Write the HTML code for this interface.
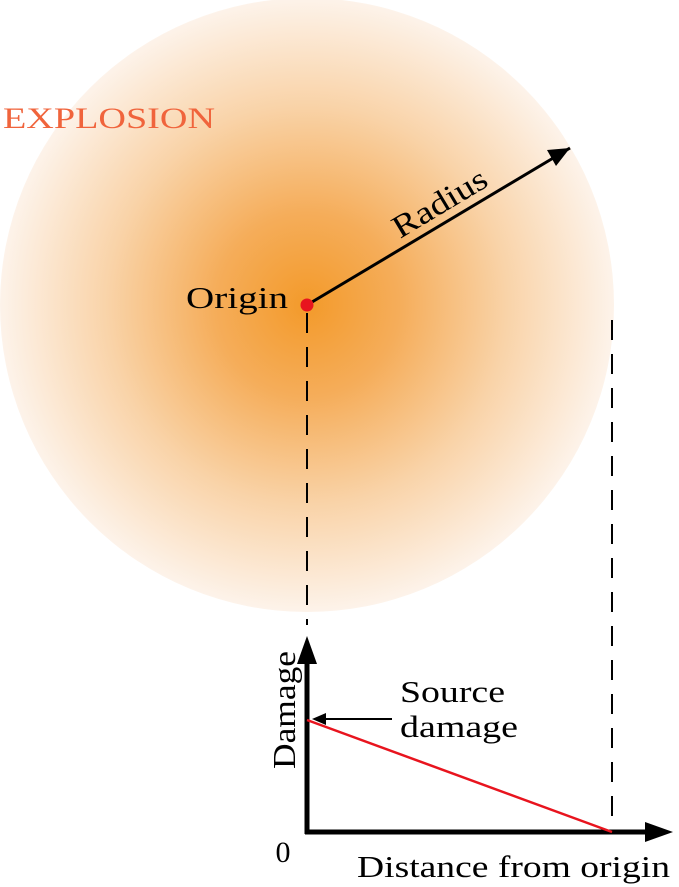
<!DOCTYPE html>
<html><head><meta charset="utf-8"><style>
html,body{margin:0;padding:0;background:#fff;}
svg{display:block;font-family:"Liberation Serif",serif;}
</style></head><body>
<svg width="679" height="887" viewBox="0 0 679 887">
<defs>
<radialGradient id="g" cx="307" cy="305" r="307" gradientUnits="userSpaceOnUse">
<stop offset="0" stop-color="#f39a2a"/>
<stop offset="0.3" stop-color="#f5ad5a"/>
<stop offset="0.65" stop-color="#f9d3a8"/>
<stop offset="1" stop-color="#fdf3ea"/>
</radialGradient>
</defs>
<circle cx="307" cy="305" r="307" fill="url(#g)"/>
<text x="3" y="128" font-size="30" fill="#f0643c" textLength="212" lengthAdjust="spacingAndGlyphs">EXPLOSION</text>
<line x1="307" y1="305" x2="570" y2="148" stroke="#000" stroke-width="3"/>
<path d="M570,148 L547,150 L556,166 Z" fill="#000"/>
<text x="445" y="212" font-size="32" text-anchor="middle" textLength="105" lengthAdjust="spacingAndGlyphs" transform="rotate(-31 445 212)">Radius</text>
<text x="186" y="308" font-size="31" textLength="102" lengthAdjust="spacingAndGlyphs">Origin</text>
<line x1="307" y1="313" x2="307" y2="625" stroke="#000" stroke-width="2" stroke-dasharray="20,14"/>
<line x1="612" y1="320" x2="612" y2="832" stroke="#000" stroke-width="2" stroke-dasharray="20,14"/>
<circle cx="307" cy="305" r="6.5" fill="#e8141e"/>
<g id="chart"></g>
<text x="283" y="862" font-size="30" text-anchor="middle">0</text>
<text x="357" y="877" font-size="31" textLength="313" lengthAdjust="spacingAndGlyphs">Distance from origin</text>
<text x="0" y="0" font-size="32" text-anchor="middle" textLength="118" lengthAdjust="spacingAndGlyphs" transform="translate(295 710) rotate(-90)">Damage</text>
<text font-size="31"><tspan x="400" y="702" textLength="105" lengthAdjust="spacingAndGlyphs">Source</tspan><tspan x="400" y="737" textLength="118" lengthAdjust="spacingAndGlyphs">damage</tspan></text>
<line x1="392" y1="719" x2="318" y2="719" stroke="#000" stroke-width="2"/>
<path d="M312,719 L326,713 L326,725 Z" fill="#000"/>
</svg>
<script>
const distances = [0, 1];
const damages = [1, 0];
const X0 = 307, X1 = 612, Y0 = 832, Y1 = 720;
function xs(d){ return X0 + d * (X1 - X0); }
function ys(v){ return Y0 - v * (Y0 - Y1); }
const NS = "http://www.w3.org/2000/svg";
const g = document.getElementById('chart');
const yAxis = document.createElementNS(NS, 'path');
yAxis.setAttribute('d', 'M307,834 L307,658');
yAxis.setAttribute('stroke', '#000'); yAxis.setAttribute('stroke-width', '5'); yAxis.setAttribute('fill', 'none');


g.appendChild(yAxis);
const yHead = document.createElementNS(NS, 'path');
yHead.setAttribute('d', 'M307,636 L297,664 L317,664 Z');


g.appendChild(yHead);
const xAxis = document.createElementNS(NS, 'path');
xAxis.setAttribute('d', 'M305,832 L650,832');
xAxis.setAttribute('stroke', '#000'); xAxis.setAttribute('stroke-width', '5'); xAxis.setAttribute('fill', 'none');


g.appendChild(xAxis);
const xHead = document.createElementNS(NS, 'path');
xHead.setAttribute('d', 'M673,832 L645,822 L645,842 Z');


g.appendChild(xHead);
const line = document.createElementNS(NS, 'polyline');
line.setAttribute('points', distances.map((d,i)=>xs(d)+','+ys(damages[i])).join(' '));
line.setAttribute('stroke', '#e8141e'); line.setAttribute('stroke-width', '2.5'); line.setAttribute('fill', 'none');


g.appendChild(line);
</script>
</body></html>
